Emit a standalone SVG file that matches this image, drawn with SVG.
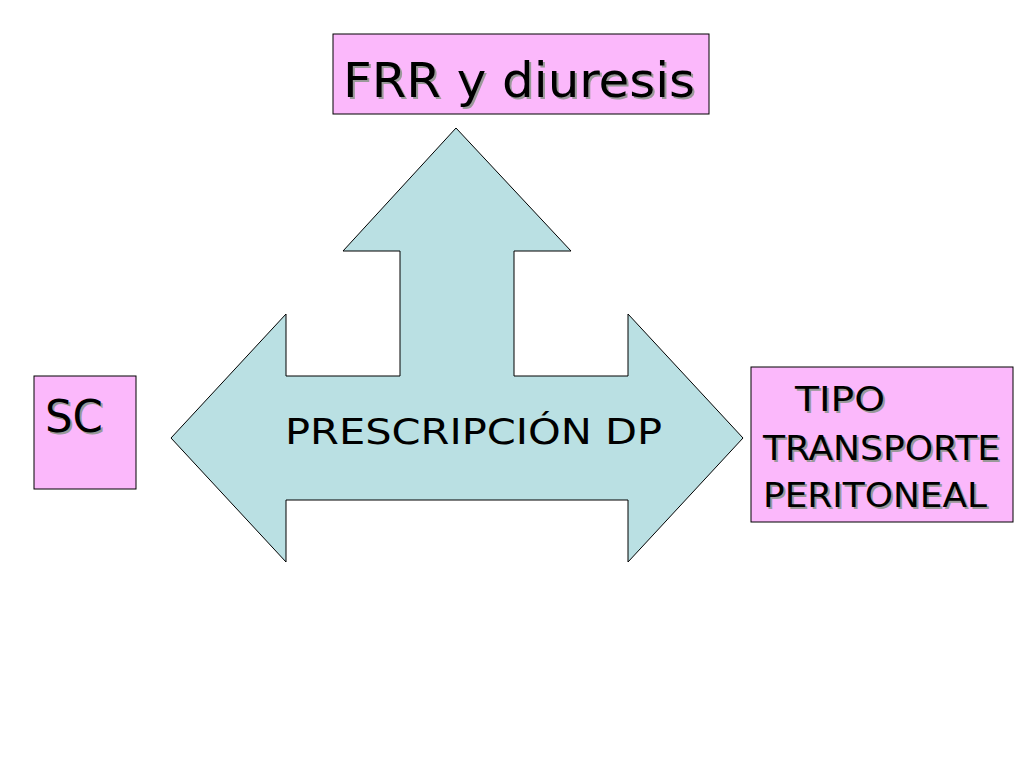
<svg xmlns="http://www.w3.org/2000/svg" width="1024" height="768" viewBox="0 0 1024 768">
<style>
.box{fill:#fbb8fb;stroke:#000;stroke-width:1}
.t{font-family:"DejaVu Sans Condensed","DejaVu Sans",sans-serif;fill:#000}
.s{font-family:"DejaVu Sans Condensed","DejaVu Sans",sans-serif;fill:#999}
</style>
<rect width="1024" height="768" fill="#fff"/>
<g id="connectors">
<polygon points="456,128 571,251 514,251 514,376 628,376 628,314 743,438 628,562 628,500 286,500 286,562 171,438 286,314 286,376 400,376 400,251 343,251" fill="#bae0e3" stroke="#000" stroke-width="1"/>
</g>
<g id="center">
<text class="t" x="285" y="444" font-size="36" textLength="377" lengthAdjust="spacingAndGlyphs">PRESCRIPCIÓN DP</text>
</g>
<g id="frr">
<rect class="box" x="333" y="34" width="376" height="80"/>
<text class="s" x="345" y="99" font-size="48" textLength="352" lengthAdjust="spacingAndGlyphs">FRR y diuresis</text>
<text class="t" x="343" y="97" font-size="48" textLength="352" lengthAdjust="spacingAndGlyphs">FRR y diuresis</text>
</g>
<g id="sc">
<rect class="box" x="34" y="376" width="102" height="113"/>
<text class="s" x="47" y="434" font-size="44" textLength="58" lengthAdjust="spacingAndGlyphs">SC</text>
<text class="t" x="45" y="432" font-size="44" textLength="58" lengthAdjust="spacingAndGlyphs">SC</text>
</g>
<g id="tipo">
<rect class="box" x="751" y="367" width="262" height="155"/>
<text class="s" x="797" y="413" font-size="34" textLength="90" lengthAdjust="spacingAndGlyphs">TIPO</text>
<text class="t" x="795" y="411" font-size="34" textLength="90" lengthAdjust="spacingAndGlyphs">TIPO</text>
<text class="s" x="765" y="462" font-size="34" textLength="237" lengthAdjust="spacingAndGlyphs">TRANSPORTE</text>
<text class="t" x="763" y="460" font-size="34" textLength="237" lengthAdjust="spacingAndGlyphs">TRANSPORTE</text>
<text class="s" x="765" y="509" font-size="34" textLength="224" lengthAdjust="spacingAndGlyphs">PERITONEAL</text>
<text class="t" x="763" y="507" font-size="34" textLength="224" lengthAdjust="spacingAndGlyphs">PERITONEAL</text>
</g>
</svg>
